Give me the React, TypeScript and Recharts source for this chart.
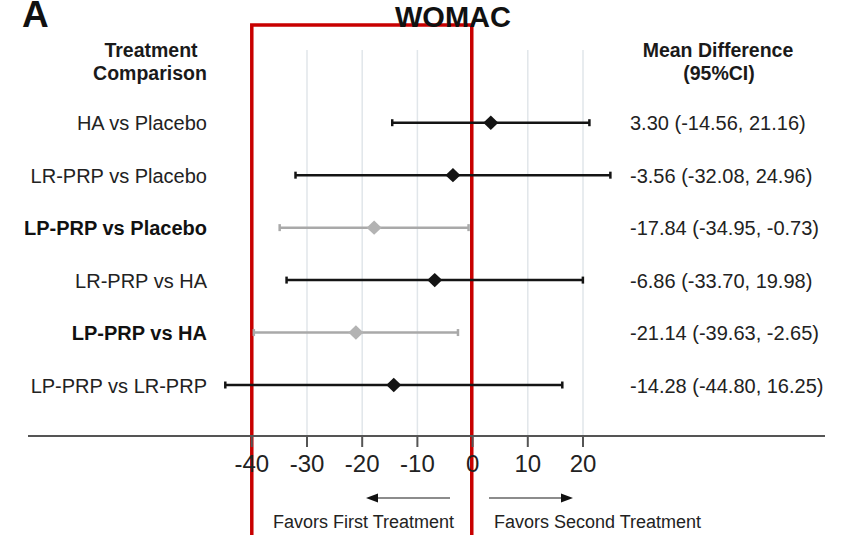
import {
  CartesianGrid,
  ErrorBar,
  ReferenceArea,
  Scatter,
  ScatterChart,
  XAxis,
  YAxis,
} from "recharts";

// WOMAC network comparisons: mean difference with 95% CI
const comparisons = [
  "HA vs Placebo",
  "LR-PRP vs Placebo",
  "LP-PRP vs Placebo",
  "LR-PRP vs HA",
  "LP-PRP vs HA",
  "LP-PRP vs LR-PRP",
];
const meanDiff = [3.3, -3.56, -17.84, -6.86, -21.14, -14.28];
const ciLow = [-14.56, -32.08, -34.95, -33.7, -39.63, -44.8];
const ciHigh = [21.16, 24.96, -0.73, 19.98, -2.65, 16.25];
const significant = [false, false, true, false, true, false];
const xTicks = [-40, -30, -20, -10, 0, 10, 20];

const FONT = "'Liberation Sans', Arial, Helvetica, sans-serif";
const BLACK = "#141414";
const GRAY = "#a9a9a9";

const rows = comparisons.map((name, i) => ({
  row: i,
  name,
  mean: meanDiff[i],
  err: [meanDiff[i] - ciLow[i], ciHigh[i] - meanDiff[i]],
  label: `${meanDiff[i].toFixed(2)} (${ciLow[i].toFixed(2)}, ${ciHigh[i].toFixed(2)})`,
  sig: significant[i],
}));

const plainRows = rows.filter((r) => !r.sig);
const sigRows = rows.filter((r) => r.sig);

// square diamond centred on the point recharts hands us
const diamond = (color: string) => (props: any) => {
  const { cx, cy } = props;
  const w = 7.5;
  const h = 7.2;
  return (
    <polygon
      points={`${cx - w},${cy} ${cx},${cy - h} ${cx + w},${cy} ${cx},${cy + h}`}
      fill={color}
    />
  );
};

// left: comparison name, right: mean difference text
const RowTick = (props: any) => {
  const { y, payload } = props;
  const r = rows[payload.value];
  if (!r) return null;
  return (
    <g fontFamily={FONT} fontSize={20}>
      <text
        x={207}
        y={y}
        dy={7.5}
        textAnchor="end"
        fill={r.sig ? "#111" : "#222"}
        fontWeight={r.sig ? 700 : 400}
      >
        {r.name}
      </text>
      <text x={630} y={y} dy={7.5} fill="#222">
        {r.label}
      </text>
    </g>
  );
};

export default function App() {
  return (
    <div
      style={{
        position: "absolute",
        left: 0,
        top: 0,
        width: 843,
        height: 535,
        background: "#fff",
        overflow: "hidden",
      }}
    >
      <ScatterChart
        width={843}
        height={535}
        margin={{ top: 50, right: 18, bottom: 0, left: 27 }}
      >
        <CartesianGrid
          horizontal={false}
          stroke="#e1e6ea"
          strokeWidth={1.5}
          syncWithTicks
        />
        <XAxis
          type="number"
          dataKey="mean"
          domain={[-80.54, 63.84]}
          ticks={xTicks}
          interval={0}
          allowDataOverflow
          height={99}
          axisLine={{ stroke: "#555", strokeWidth: 2 }}
          tickLine={{ stroke: "#555", strokeWidth: 2 }}
          tickSize={11}
          tickMargin={8}
          tick={{ fill: "#222", fontSize: 24, fontFamily: FONT }}
        />
        <YAxis
          type="number"
          dataKey="row"
          domain={[-1.386, 5.972]}
          reversed
          ticks={[0, 1, 2, 3, 4, 5]}
          interval={0}
          allowDataOverflow
          width={1}
          axisLine={false}
          tickLine={false}
          tick={(p: any) => <RowTick {...p} />}
        />
        <Scatter
          data={plainRows}
          shape={diamond(BLACK)}
          isAnimationActive={false}
        >
          <ErrorBar
            dataKey="err"
            direction="x"
            width={3.5}
            stroke={BLACK}
            strokeWidth={2.5}
            isAnimationActive={false}
          />
        </Scatter>
        <Scatter
          data={sigRows}
          shape={diamond("#b3b3b3")}
          isAnimationActive={false}
        >
          <ErrorBar
            dataKey="err"
            direction="x"
            width={3.5}
            stroke={GRAY}
            strokeWidth={2.5}
            isAnimationActive={false}
          />
        </Scatter>
        <ReferenceArea
          x1={-40}
          x2={-0.15}
          y1={-1.863}
          y2={8.05}
          ifOverflow="visible"
          fill="none"
          fillOpacity={0}
          stroke="#c80000"
          strokeWidth={3.5}
        />
      </ScatterChart>

      <svg
        width={843}
        height={535}
        style={{ position: "absolute", left: 0, top: 0, pointerEvents: "none" }}
        fontFamily={FONT}
      >
        <text x={22} y={27} fontSize={37} fontWeight={700} fill="#111">
          A
        </text>
        <text x={453} y={27} fontSize={29} fontWeight={700} fill="#111" textAnchor="middle">
          WOMAC
        </text>
        <g fontSize={19.5} fontWeight={700} fill="#1a1a1a" textAnchor="middle">
          <text x={151} y={57}>Treatment</text>
          <text x={150} y={80}>Comparison</text>
          <text x={718} y={57}>Mean Difference</text>
          <text x={719} y={80}>(95%CI)</text>
        </g>
        <line x1={376} y1={498} x2={450} y2={498} stroke="#666" strokeWidth={1.5} />
        <polygon points="366,498 378,493.5 378,502.5" fill="#111" />
        <line x1={489} y1={498} x2={563} y2={498} stroke="#666" strokeWidth={1.5} />
        <polygon points="573,498 561,493.5 561,502.5" fill="#111" />
        <g fontSize={18} fill="#222" textAnchor="middle">
          <text x={363.5} y={528}>Favors First Treatment</text>
          <text x={597.5} y={528}>Favors Second Treatment</text>
        </g>
      </svg>
    </div>
  );
}
